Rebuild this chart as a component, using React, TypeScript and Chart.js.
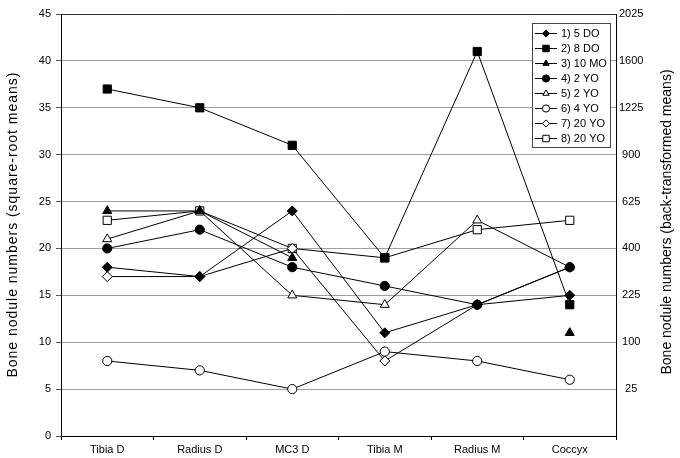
import React, { useEffect, useRef } from 'react';
import { Chart, registerables } from 'chart.js';
Chart.register(...registerables);

const categories = ['Tibia D', 'Radius D', 'MC3 D', 'Tibia M', 'Radius M', 'Coccyx'];
const seriesLabels = ['1) 5 DO', '2) 8 DO', '3) 10 MO', '4) 2 YO', '5) 2 YO', '6) 4 YO', '7) 20 YO', '8) 20 YO'];
const s1 = [18, 17, 24, 11, 14, 15];
const s2 = [37, 35, 31, 19, 41, 14];
const s3 = [24, 24, 19, null, null, 11];
const s4 = [20, 22, 18, 16, 14, 18];
const s5 = [21, 24, 15, 14, 23, 18];
const s6 = [8, 7, 5, 9, 8, 6];
const s7 = [17, 17, 20, 8, 14, 18];
const s8 = [23, 24, 20, 19, 22, 23];
const rightTickLabels = ['', '25', '100', '225', '400', '625', '900', '1225', '1600', '2025'];
const leftTitle = 'Bone nodule numbers (square-root means)';
const rightTitle = 'Bone nodule numbers (back-transformed means)';

const FONT = "'Liberation Sans', Arial, sans-serif";
const styles = ['rectRot', 'rect', 'triangle', 'circle', 'triangle', 'circle', 'rectRot', 'rect'];
const filled = [true, true, true, true, false, false, false, false];
const radii = [5, 5.8, 5.2, 4.6, 5.2, 4.6, 5, 5.8];

function drawMarker(ctx: CanvasRenderingContext2D, style: string, x: number, y: number, r: number, fill: boolean) {
  ctx.beginPath();
  if (style === 'circle') {
    ctx.arc(x, y, r, 0, Math.PI * 2);
  } else if (style === 'rect') {
    const s = r * Math.SQRT1_2;
    ctx.rect(x - s, y - s, 2 * s, 2 * s);
  } else if (style === 'rectRot') {
    ctx.moveTo(x, y - r); ctx.lineTo(x + r, y); ctx.lineTo(x, y + r); ctx.lineTo(x - r, y); ctx.closePath();
  } else if (style === 'triangle') {
    for (let i = 0; i < 3; i++) {
      const a = -Math.PI / 2 + i * (2 * Math.PI / 3);
      const px = x + Math.cos(a) * r, py = y + Math.sin(a) * r;
      if (i === 0) ctx.moveTo(px, py); else ctx.lineTo(px, py);
    }
    ctx.closePath();
  }
  ctx.fillStyle = fill ? '#000' : '#fff';
  ctx.fill();
  ctx.strokeStyle = '#000';
  ctx.lineWidth = 1;
  ctx.stroke();
}

function drawVerticalTitle(ctx: CanvasRenderingContext2D, text: string, cx: number, cy: number, target: number) {
  ctx.save();
  ctx.font = `14px ${FONT}`;
  (ctx as any).letterSpacing = '0px';
  const w = ctx.measureText(text).width;
  const ls = Math.max(0, (target - w) / (text.length - 1));
  (ctx as any).letterSpacing = `${ls.toFixed(2)}px`;
  ctx.translate(cx, cy);
  ctx.rotate(-Math.PI / 2);
  ctx.textAlign = 'left';
  ctx.textBaseline = 'middle';
  ctx.fillStyle = '#000';
  ctx.fillText(text, -target / 2, 0);
  ctx.restore();
}

const overlayPlugin = {
  id: 'overlay',
  afterDraw(chart: any) {
    const ctx: CanvasRenderingContext2D = chart.ctx;
    const ca = chart.chartArea;
    ctx.save();
    ctx.strokeStyle = '#333';
    ctx.lineWidth = 1;
    ctx.beginPath();
    ctx.moveTo(ca.left, ca.top + 0.5);
    ctx.lineTo(ca.right, ca.top + 0.5);
    ctx.stroke();
    drawVerticalTitle(ctx, leftTitle, 13, 225, 305);
    drawVerticalTitle(ctx, rightTitle, 667, 222, 305);
    // legend
    const bx = 532, by = 23, bw = 78, bh = 124;
    ctx.fillStyle = '#fff';
    ctx.fillRect(bx, by, bw, bh);
    ctx.strokeStyle = '#444';
    ctx.strokeRect(bx + 0.5, by + 0.5, bw, bh);
    ctx.font = `11px ${FONT}`;
    ctx.textAlign = 'left';
    ctx.textBaseline = 'middle';
    for (let i = 0; i < seriesLabels.length; i++) {
      const y = by + 10 + i * 15;
      ctx.strokeStyle = '#000';
      ctx.beginPath();
      ctx.moveTo(bx + 3, y + 0.5);
      ctx.lineTo(bx + 25, y + 0.5);
      ctx.stroke();
      drawMarker(ctx, styles[i], bx + 14, y + 0.5, styles[i] === 'rect' ? 4.6 : 3.6, filled[i]);
      ctx.fillStyle = '#000';
      ctx.fillText(seriesLabels[i], bx + 29, y + 1);
    }
    ctx.restore();
  },
};

export default function App() {
  const ref = useRef<HTMLCanvasElement>(null);
  useEffect(() => {
    const all = [s1, s2, s3, s4, s5, s6, s7, s8];
    const chart = new Chart(ref.current!, {
      type: 'line',
      data: {
        labels: categories,
        datasets: all.map((d, i) => ({
          label: seriesLabels[i],
          data: d,
          borderColor: '#000',
          borderWidth: 1,
          pointStyle: styles[i] as any,
          pointRadius: radii[i],
          pointBackgroundColor: filled[i] ? '#000' : '#fff',
          pointBorderColor: '#000',
          pointBorderWidth: 1,
          spanGaps: false,
          tension: 0,
          yAxisID: 'y',
        })),
      },
      options: {
        responsive: false,
        animation: false,
        events: [],
        layout: { padding: { top: 14, left: 0, right: 0, bottom: 0 } },
        plugins: { legend: { display: false }, tooltip: { enabled: false } },
        scales: {
          x: {
            offset: true,
            grid: { drawOnChartArea: false, offset: true, tickLength: 4, color: '#000' },
            border: { color: '#000' },
            ticks: { font: { family: FONT, size: 11 }, color: '#000', padding: 3, maxRotation: 0 },
            afterFit: (s: any) => { s.height = 22; },
          },
          y: {
            position: 'left',
            min: 0,
            max: 45,
            ticks: { stepSize: 5, font: { family: FONT, size: 11 }, color: '#000', padding: 5 },
            grid: { color: '#a0a0a0', tickColor: '#555', tickLength: 5 },
            border: { color: '#000' },
            afterFit: (s: any) => { s.width = 61; },
          },
          y2: {
            position: 'right',
            min: 0,
            max: 45,
            ticks: {
              stepSize: 5,
              font: { family: FONT, size: 11 },
              color: '#000',
              padding: 3,
              crossAlign: 'center',
              callback: (_v: any, i: number) => rightTickLabels[i],
            },
            grid: { drawOnChartArea: false, drawTicks: false, tickLength: 0 },
            border: { color: '#000' },
            afterFit: (s: any) => { s.width = 64; },
          },
        },
      },
      plugins: [overlayPlugin],
    } as any);
    return () => chart.destroy();
  }, []);
  return (
    <div style={{ position: 'fixed', left: 0, top: 0, width: 680, height: 458, background: '#fff' }}>
      <canvas ref={ref} width={680} height={458} />
    </div>
  );
}
